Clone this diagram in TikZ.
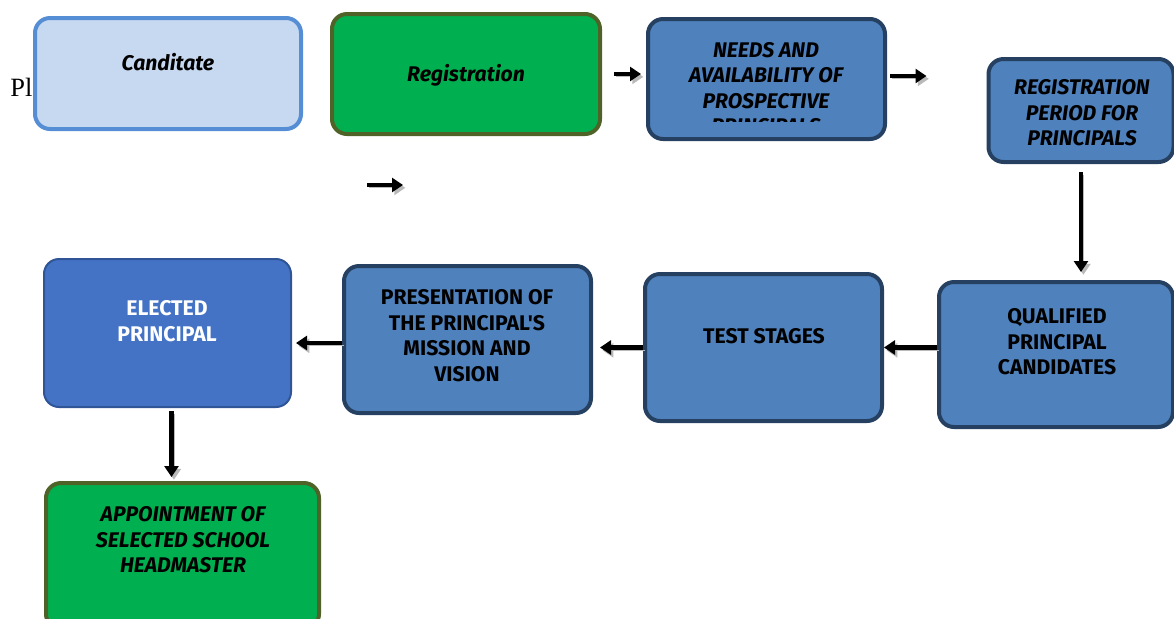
\documentclass[tikz,border=0pt]{standalone}
\usepackage{fontspec}
\setmainfont{Liberation Serif}
\newfontfamily\boxfont{Fira Sans}
\usetikzlibrary{arrows.meta}

\definecolor{candfill}{HTML}{C6D9F0}
\definecolor{candline}{HTML}{558ED5}
\definecolor{greenfill}{HTML}{00B050}
\definecolor{greenline}{HTML}{4F6228}
\definecolor{stepfill}{HTML}{4F81BD}
\definecolor{stepline}{HTML}{254061}
\definecolor{electfill}{HTML}{4472C4}
\definecolor{electline}{HTML}{2F5597}

\newcommand{\boxsize}{\fontsize{10.6}{12.75}\selectfont}

\begin{document}
\begin{tikzpicture}[x=0.5pt, y=-0.5pt,
    box/.style={rounded corners=7.5pt, line width=2pt, inner sep=0pt},
    stepbox/.style={box, draw=stepline, fill=stepfill},
    greenbox/.style={box, draw=greenline, fill=greenfill},
    boxtext/.style={font=\boxfont\bfseries\boxsize, align=center, inner sep=0pt},
    boxtext it/.style={font=\boxfont\bfseries\itshape\boxsize, align=center, inner sep=0pt},
    flow/.style={-{Triangle[length=5.5pt,width=7pt]}, line width=2.2pt,
        preaction={draw=gray!55, -{Triangle[length=5.5pt,width=7pt]},
            transform canvas={shift={(1.2pt,-1.4pt)}}}}]

    \useasboundingbox (0,0) rectangle (1174,618);

    % Stray text of the page behind
    \node[anchor=base west, inner sep=0pt, font=\fontsize{13.2}{15}\selectfont] (pl) at (10,96) {Pl};

    % Top row
    \node[box, draw=candline, fill=candfill, minimum width=133pt, minimum height=55.5pt] (cand) at (168,73.5) {};
    \node[boxtext it] (cand text) at (168,62) {Canditate};

    \node[greenbox, minimum width=134pt, minimum height=60pt] (reg) at (466,74) {};
    \node[boxtext it] (reg text) at (466,75) {Registration};

    \node[stepbox, minimum width=118.5pt, minimum height=60pt] (needs) at (766.5,79) {};
    \begin{scope}
        \clip (646,17) rectangle (887,121);
        \node[boxtext it] (needs text) at (766,88) {NEEDS AND\\AVAILABILITY OF\\PROSPECTIVE\\PRINCIPALS};
    \end{scope}

    \node[stepbox, minimum width=92.5pt, minimum height=51.5pt] (period) at (1081,110.5) {};
    \node[boxtext it] (period text) at (1082,113) {REGISTRATION\\PERIOD FOR\\PRINCIPALS};

    % Bottom row
    \node[stepbox, minimum width=117pt, minimum height=72.5pt] (qual) at (1056,354.5) {};
    \node[boxtext] (qual text) at (1057,342) {QUALIFIED\\PRINCIPAL\\CANDIDATES};

    \node[stepbox, minimum width=118.5pt, minimum height=73.5pt] (test) at (763.5,347.5) {};
    \node[boxtext] (test text) at (764,336) {TEST STAGES};

    \node[stepbox, minimum width=123.5pt, minimum height=73.5pt] (pres) at (467.5,339.5) {};
    \node[boxtext] (pres text) at (467,335.5) {PRESENTATION OF\\THE PRINCIPAL'S\\MISSION AND\\VISION};

    \node[box, line width=1pt, draw=electline, fill=electfill, minimum width=123.5pt, minimum height=74pt] (elect) at (167.5,333) {};
    \node[boxtext, text=white] (elect text) at (167,321) {ELECTED\\PRINCIPAL};

    \node[greenbox, minimum width=136.5pt, minimum height=73pt] (appt) at (182.5,556) {};
    \node[boxtext it] (appt text) at (183,540) {APPOINTMENT OF\\SELECTED SCHOOL\\HEADMASTER};

    % Loose arrow
    \coordinate (loose a) at (367,185);
    \coordinate (loose b) at (403,185);

    % Connectors
    \draw[flow, shorten <=6pt, shorten >=2.5pt] (reg.east) -- (reg.east -| needs.west);
    \draw[flow, shorten <=1.5pt, shorten >=30pt] ([yshift=1.5pt]needs.east) -- ([yshift=1.5pt]needs.east -| period.west);
    \draw[flow] (loose a) -- (loose b);
    \draw[flow, shorten <=4pt, shorten >=4pt] (period.south) -- (period.south |- qual.north);
    \draw[flow] (test.east -| qual.west) -- (test.east);
    \draw[flow, shorten >=3.5pt] (test.west) -- (test.west -| pres.east);
    \draw[flow, shorten >=2pt] ([yshift=-1.75pt]pres.west) -- ([yshift=-1.75pt]pres.west -| elect.east);
    \draw[flow, shorten <=1.5pt, shorten >=2pt] ([xshift=2pt]elect.south) -- ([xshift=2pt]elect.south |- appt.north);

\end{tikzpicture}
\end{document}
